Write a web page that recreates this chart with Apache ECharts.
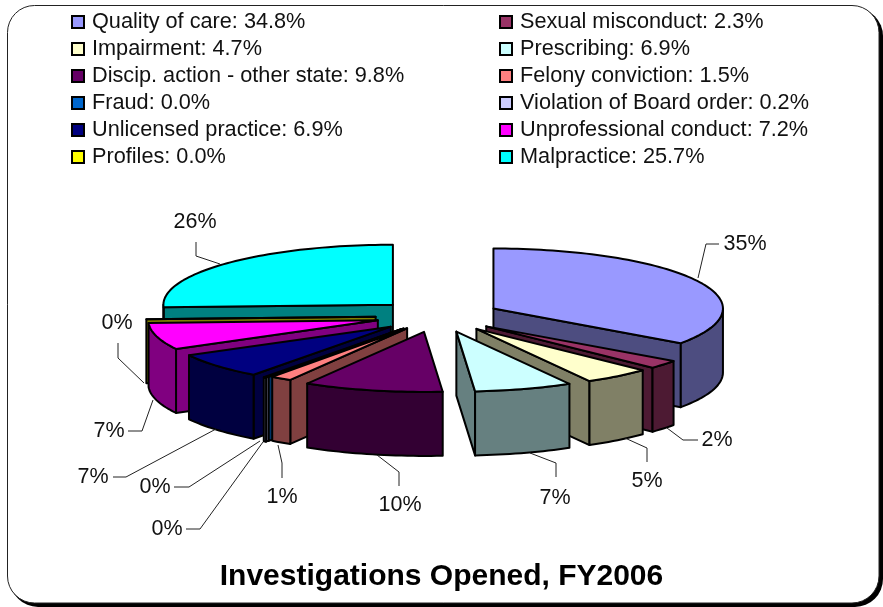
<!DOCTYPE html>
<html><head><meta charset="utf-8">
<style>html,body{margin:0;padding:0;background:#fff}#c{width:883px;height:607px}</style>
<script src="https://cdn.jsdelivr.net/npm/echarts@6/dist/echarts.min.js"></script>
</head><body><div id="c"></div>
<script>
const categories = ['Quality of care','Sexual misconduct','Impairment','Prescribing','Discip. action - other state','Felony conviction','Fraud','Violation of Board order','Unlicensed practice','Unprofessional conduct','Profiles','Malpractice'];
const values = [34.8,2.3,4.7,6.9,9.8,1.5,0.0,0.2,6.9,7.2,0.0,25.7];
const pointLabels = ['35%','2%','5%','7%','10%','1%','0%','0%','7%','7%','0%','26%'];
const topColors = ['#9999FF','#993366','#FFFFCC','#CCFFFF','#660066','#FF8080','#0066CC','#CCCCFF','#000080','#FF00FF','#FFFF00','#00FFFF'];
const sideColors = ['#4D4D80','#4D1A33','#808066','#668080','#330033','#804040','#003366','#666680','#000040','#800080','#808000','#008080'];
const legendLeft = [0,2,4,6,8,10];
const legendRight = [1,3,5,7,9,11];
// per-slice explosion
const explosion = [0.272,0.272,0.272,0.272,0.272,0.245,0.255,0.272,0.272,0.272,0.272,0.272];
// leader lines: [start, elbow, end, label centre]
const labelLayout = [
 [[698,278],[706,244],[719,244],[745,244]],
 [[667,428],[683,440],[698,440],[717,440]],
 [[625,438],[647,448],[647,462],[647,481]],
 [[530,453],[556,463],[556,477],[555,498]],
 [[377,455],[399,472],[399,486],[400,505]],
 [[278,445],[282,463],[282,478],[282,497]],
 [[263,442],[200,529],[186,529],[167,529]],
 [[260,441],[189,487],[174,487],[155,487]],
 [[216,429],[126,477],[113,477],[93,477]],
 [[153,400],[142,431],[128,431],[109,431]],
 [[144,383],[118,358],[118,343],[117,323]],
 [[220,264],[196,256],[196,242],[195,222]]
];
const pie = {cx:438, cy:316, a:229.5, b:60, depth:64};
const total = values.reduce((s,v)=>s+v,0);
const starts = [];
values.reduce((s,v,i)=>{starts[i]=s;return s+v;},0);
const deg = Math.PI/180;
const ang = p => p/total*360*deg;

function renderSlice(i){
  const t1 = ang(starts[i]), t2 = ang(starts[i]+values[i]), mid=(t1+t2)/2;
  const ox = pie.cx + explosion[i]*pie.a*Math.sin(mid);
  const oy = pie.cy - explosion[i]*pie.b*Math.cos(mid);
  const P = t => [ox+pie.a*Math.sin(t), oy-pie.b*Math.cos(t)];
  const D = p => [p[0], p[1]+pie.depth];
  const arc = (s,e)=>{const r=[];const n=Math.max(1,Math.ceil((e-s)/(1.5*deg)));for(let k=0;k<=n;k++)r.push(P(s+(e-s)*k/n));return r;};
  const style = c => ({fill:c, stroke:'#000', lineWidth:2, lineJoin:'round'});
  const kids = [];
  const apex=[ox,oy];
  const face = t => ({type:'polygon',shape:{points:[apex,P(t),D(P(t)),D(apex)]},style:style(sideColors[i])});
  if (Math.sin(t1)<-1e-6) kids.push(face(t1));
  if (Math.sin(t2)>1e-6) kids.push(face(t2));
  const ra=Math.max(t1,90*deg), rb=Math.min(t2,270*deg);
  if (rb>ra){
    const a=arc(ra,rb);
    kids.push({type:'polygon',shape:{points:a.concat(a.slice().reverse().map(D))},style:style(sideColors[i])});
  }
  kids.push({type:'polygon',shape:{points:[apex].concat(arc(t1,t2))},style:style(topColors[i])});
  return {type:'group',children:kids};
}
// painter's order: slices nearest the viewer are drawn last
const depthRank = values.map((v,i)=>{
  const m=(ang(starts[i])+ang(starts[i]+v))/2/deg;
  return {i,d:Math.abs(m-180)};
}).sort((x,y)=>y.d-x.d).reduce((o,e,r)=>{o[e.i]=r;return o;},{});

const sliceSeries = categories.map((c,i)=>({
  type:'custom', coordinateSystem:'none',
  name:c+': '+values[i].toFixed(1)+'%',
  data:[[values[i]]], z:10+depthRank[i], silent:true,
  itemStyle:{color:topColors[i]},
  renderItem:()=>renderSlice(i)
}));
const labelSeries = {
  type:'custom', coordinateSystem:'none', name:'labels', silent:true, z:40,
  data:pointLabels.map((l,i)=>[i]),
  renderItem:(p,api)=>{
    const i=api.value(0), L=labelLayout[i];
    return {type:'group',children:[
      {type:'polyline',shape:{points:L.slice(0,3)},style:{fill:null,stroke:'#222',lineWidth:1}},
      {type:'text',style:{text:pointLabels[i],x:L[3][0],y:L[3][1],align:'center',verticalAlign:'middle',font:'21.5px "Liberation Sans"',fill:'#111'}}
    ]};
  }
};
const legendBase = {orient:'vertical',top:11,padding:0,itemWidth:12,itemHeight:12,itemGap:5,icon:'rect',selectedMode:false,
  itemStyle:{borderColor:'#000',borderWidth:2},
  textStyle:{fontFamily:'Liberation Sans',fontSize:21.7,color:'#111',padding:[0,0,0,3]}};
const chart = echarts.init(document.getElementById('c'),null,{renderer:'canvas'});
chart.setOption({
  animation:false,
  backgroundColor:'#fff',
  title:{text:'Investigations Opened, FY2006',left:'center',top:562,padding:0,textStyle:{fontFamily:'Liberation Sans',fontSize:30,fontWeight:'bold',color:'#000'}},
  legend:[
    Object.assign({},legendBase,{left:71,data:legendLeft.map(i=>sliceSeries[i].name)}),
    Object.assign({},legendBase,{left:499,data:legendRight.map(i=>sliceSeries[i].name)})
  ],
  graphic:[
    {type:'rect',z:-2,silent:true,shape:{x:10,y:8,width:873,height:599,r:28},style:{fill:'#000'}},
    {type:'rect',z:-1,silent:true,shape:{x:7.5,y:5.5,width:871.5,height:597.5,r:27},style:{fill:'#fff',stroke:'#222',lineWidth:1}}
  ],
  series:sliceSeries.concat([labelSeries])
});
</script></body></html>
